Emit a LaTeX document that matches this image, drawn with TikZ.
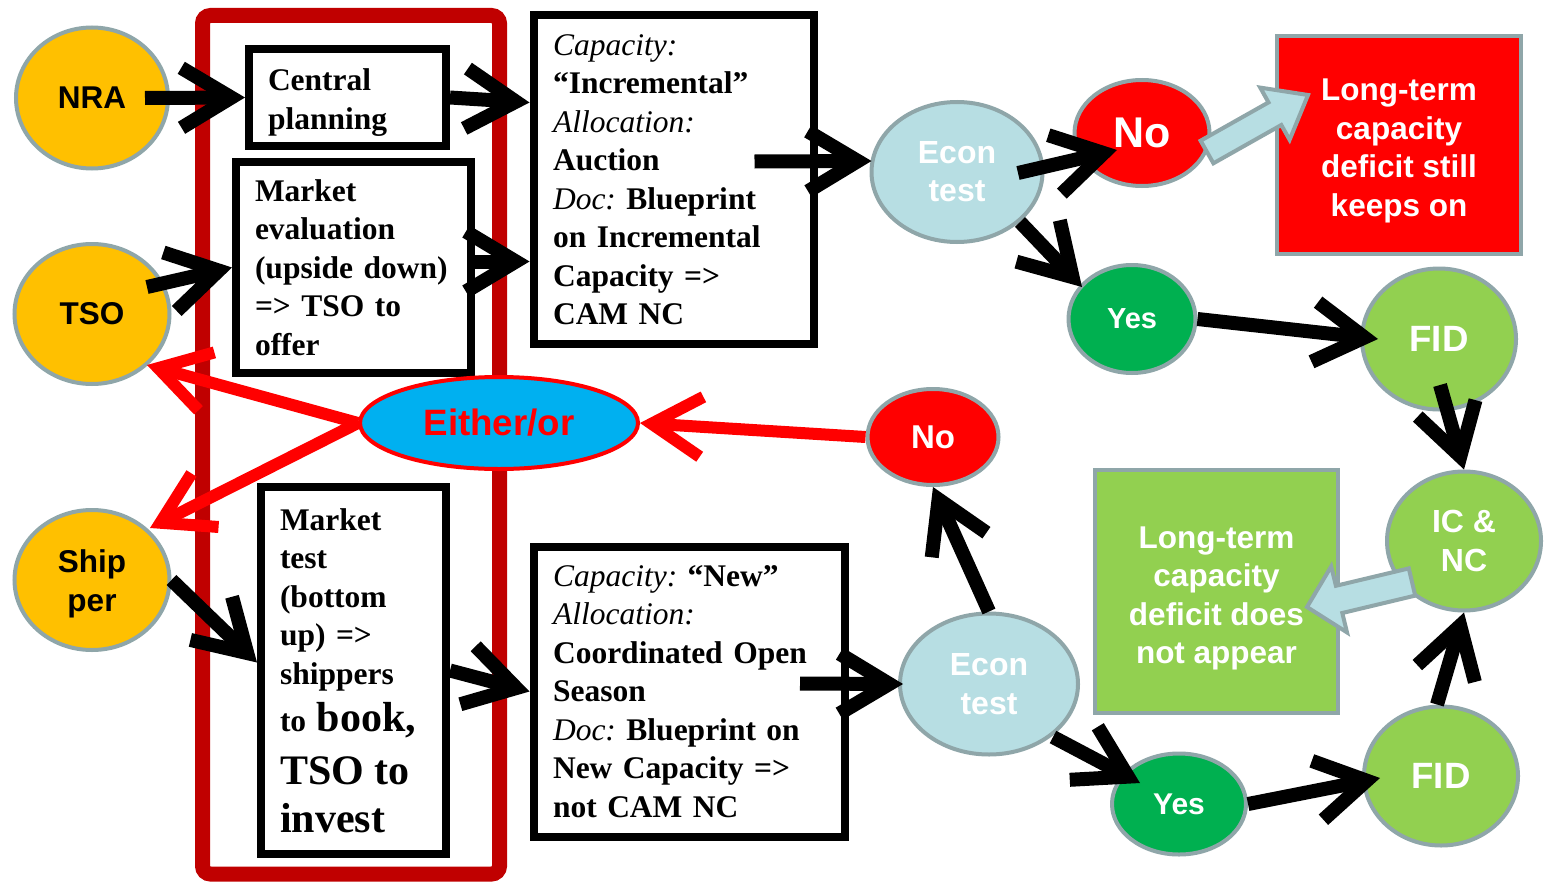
\documentclass[tikz,border=0pt]{standalone}
\usepackage{fontspec}
\setmainfont{Liberation Serif}
\newfontfamily\sansf{Liberation Sans}
\usetikzlibrary{shapes.geometric,arrows.meta,calc}
\definecolor{bord}{HTML}{8FA6A9}
\definecolor{amber}{HTML}{FFC000}
\definecolor{lblue}{HTML}{B7DEE3}
\definecolor{dgreen}{HTML}{00B050}
\definecolor{lgreen}{HTML}{92D050}
\definecolor{sky}{HTML}{00B0F0}
\definecolor{framered}{HTML}{C00000}
\newcommand{\lowc}[2]{\raisebox{-#1}[\height][\depth]{\begin{tabular}{@{}c@{}}#2\end{tabular}}}
\newcommand{\lowl}[2]{\raisebox{-#1}[\height][\depth]{\begin{tabular}{@{}l@{}}#2\end{tabular}}}
\frenchspacing
\begin{document}
\begin{tikzpicture}[x=1pt,y=-1pt,
  ell/.style={ellipse, draw=bord, line width=4pt, inner sep=0pt, align=center, text=white,
    font=\sansf\bfseries\fontsize{31.5}{39}\selectfont},
  txtbox/.style={rectangle, draw=black, line width=8pt, fill=white, inner sep=0pt, align=left,
    font=\fontsize{31.5}{38.5}\selectfont},
  sqbox/.style={rectangle, draw=bord, line width=4pt, inner sep=0pt, align=center, text=white,
    font=\sansf\bfseries\fontsize{31.5}{38.5}\selectfont},
  blk/.style={draw=black, line width=14pt, -{Straight Barb[length=50pt,width=60pt]}},
  redarr/.style={draw=red, line width=12pt, -{Straight Barb[length=50pt,width=60pt]}},
  blockarr/.style={fill=lblue, draw=bord, line width=4pt, line join=miter}
]
\useasboundingbox (0,0) rectangle (1544,883);
\fill[white] (0,0) rectangle (1544,883);

% frame
\draw[framered, line width=15pt, rounded corners=8pt] (202.5,15.5) rectangle (499.5,874);

% actors
\node[ell, fill=amber, text=black, minimum width=152pt, minimum height=141pt] (nra) at (92,98) {NRA};
\node[ell, fill=amber, text=black, minimum width=155pt, minimum height=140pt] (tso) at (92,314) {TSO};
\node[ell, fill=amber, text=black, minimum width=155pt, minimum height=140pt] (ship) at (92,580) {\lowc{4pt}{Ship\\per}};

% text boxes
\node[txtbox, font=\fontsize{31.5}{38.5}\selectfont\bfseries, minimum width=197pt, minimum height=97pt, text width=159pt] (cp) at (347.5,97.5) {\lowl{5pt}{Central\\planning}};
\node[txtbox, font=\fontsize{31.5}{38.5}\selectfont\bfseries, minimum width=235pt, minimum height=211pt, text width=197pt] (me) at (353.5,267.5) {Market\\evaluation\\\mbox{(upside down)}\\=> TSO to\\offer};
\node[txtbox, font=\fontsize{31.5}{38.5}\selectfont\bfseries, minimum width=185pt, minimum height=367pt, text width=147pt] (mt) at (353.5,670.5) {Market\\test\\(bottom\\up) =>\\shippers\\[8.5pt]\mbox{to {\fontsize{42}{50}\selectfont book,}}\\[14.5pt]{\fontsize{42}{50}\selectfont TSO to}\\[9.5pt]{\fontsize{42}{50}\selectfont invest}};
\node[txtbox, minimum width=280pt, minimum height=328pt, text width=241pt] (d1) at (673.5,179.5) {\textit{Capacity:}\\\textbf{“Incremental”}\\\textit{Allocation:}\\\textbf{Auction}\\\textit{Doc:} \textbf{Blueprint}\\\textbf{\mbox{on Incremental}}\\\textbf{Capacity =>}\\\textbf{CAM NC}};
\node[txtbox, minimum width=311pt, minimum height=290pt, text width=272pt] (d2) at (689,691.5) {\textit{Capacity:} \textbf{“New”}\\\textit{Allocation:}\\\textbf{\mbox{Coordinated Open}}\\\textbf{Season}\\\textit{Doc:} \textbf{Blueprint on}\\\textbf{\mbox{New Capacity =>}}\\\textbf{not CAM NC}};

% tests and outcomes
\node[ell, fill=lblue, minimum width=171pt, minimum height=140pt, font=\sansf\bfseries\fontsize{32}{38}\selectfont] (econ1) at (957,172) {\lowc{3pt}{Econ\\test}};
\node[ell, fill=red, minimum width=135pt, minimum height=106pt, font=\sansf\bfseries\fontsize{43}{50}\selectfont] (no1) at (1142,133) {No};
\node[ell, fill=dgreen, minimum width=127pt, minimum height=108pt, font=\sansf\bfseries\fontsize{29}{35}\selectfont] (yes1) at (1132,319) {Yes};
\node[ell, fill=lgreen, minimum width=154pt, minimum height=141pt, font=\sansf\bfseries\fontsize{36.6}{44}\selectfont] (fid1) at (1439,339) {FID};
\node[ell, fill=lgreen, minimum width=154pt, minimum height=139pt, font=\sansf\bfseries\fontsize{32}{39}\selectfont] (icnc) at (1464,541) {IC \&\\NC};
\node[ell, fill=lgreen, minimum width=154pt, minimum height=139pt, font=\sansf\bfseries\fontsize{36.6}{44}\selectfont] (fid2) at (1441,776) {FID};
\node[ell, fill=dgreen, minimum width=134pt, minimum height=101pt, font=\sansf\bfseries\fontsize{30}{36}\selectfont] (yes2) at (1179,804) {Yes};
\node[ell, fill=lblue, minimum width=178pt, minimum height=141pt, font=\sansf\bfseries\fontsize{32}{39}\selectfont] (econ2) at (989,684) {Econ\\test};
\node[ell, fill=red, minimum width=131pt, minimum height=96pt, font=\sansf\bfseries\fontsize{33}{40}\selectfont] (no2) at (933,437) {No};
\node[ell, fill=sky, draw=red, text=red, minimum width=278pt, minimum height=92pt, font=\sansf\bfseries\fontsize{36.7}{44}\selectfont] (either) at (499,423) {Either/or};

\node[sqbox, fill=red, minimum width=244pt, minimum height=218pt] (keeps) at (1399,145) {\lowc{6pt}{Long-term\\capacity\\deficit still\\keeps on}};
\node[sqbox, fill=lgreen, minimum width=243pt, minimum height=243pt] (appear) at (1216.5,591.5) {\lowc{7pt}{Long-term\\capacity\\deficit does\\not appear}};

% black connectors
\draw[blk] ($(nra.center)+(53,0)$) -- (cp.west);
\draw[blk] (cp.east) -- ($(d1.west)+(0,-77)$);
\draw[blk] ($(tso.center)+(55,-27)$) -- (me.west);
\draw[blk] ($(me.east)+(0,-6)$) -- ($(d1.west)+(0,82)$);
\draw[blk] ($(d1.center)+(81,-18)$) -- ($(econ1.west)+(2,-11)$);
\draw[blk] ($(econ1.center)+(61,1)$) -- ($(no1.center)+(-25,17)$);
\draw[blk] ($(econ1.center)+(63,50)$) -- ($(yes1.center)+(-50,-32)$);
\draw[blk] (yes1.east) -- ($(fid1.west)+(18,0)$);
\draw[blk] ($(fid1.center)+(1,46)$) -- (icnc.north);
\draw[blk] ($(fid2.north)+(-4,0)$) -- (icnc.south);
\draw[blk] (yes2.east) -- ($(fid2.west)+(18,2)$);
\draw[blk] ($(econ2.center)+(64,53)$) -- ($(yes2.center)+(-39,-21)$);
\draw[blk] (econ2.north) -- (no2.south);
\draw[blk] ($(d2.center)+(111,-8)$) -- ($(econ2.west)+(5,0)$);
\draw[blk] (ship.east) -- ($(mt.west)+(0,-8)$);
\draw[blk] (mt.east) -- (d2.west);

% red connectors
\draw[redarr] (no2.west) -- (either.east);
\draw[redarr] (either.west) -- ($(tso.center)+(55,51)$);
\draw[redarr] (either.west) -- ($(ship.center)+(58,-52)$);

% block arrows
\draw[blockarr] (1213.4,163.3) -- (1200.6,140.7) -- (1268.5,102.4) -- (1260.2,87.6) -- (1308,95) -- (1289.6,139.8) -- (1281.3,125.0) -- cycle;
\draw[blockarr] (1415.2,595.6) -- (1408.8,568.4) -- (1335.9,585.8) -- (1331.2,566.4) -- (1307,607) -- (1347.0,632.4) -- (1342.3,613.0) -- cycle;
\end{tikzpicture}
\end{document}
